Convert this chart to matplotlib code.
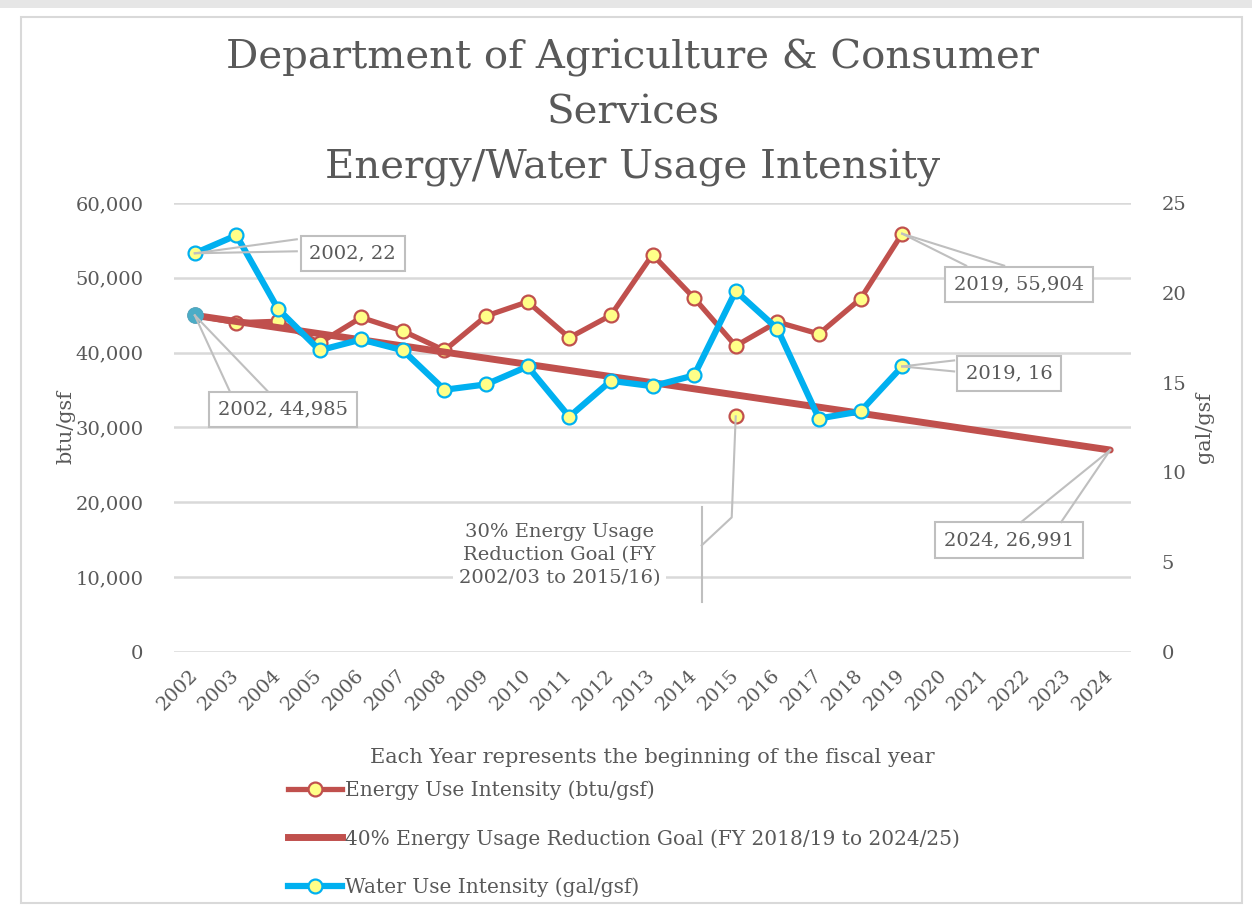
import matplotlib
matplotlib.use("Agg")
import matplotlib.pyplot as plt
from matplotlib.lines import Line2D
from matplotlib.patches import Rectangle
from matplotlib.transforms import IdentityTransform

# data
years = list(range(2002, 2025))
energy_years = list(range(2002, 2020))
energy = [44985, 44000, 44200, 41300, 44700, 42900, 40300, 44900, 46800,
          42000, 45000, 53100, 47300, 40900, 44100, 42500, 47200, 55904]
water = [22.2, 23.2, 19.1, 16.8, 17.4, 16.8, 14.6, 14.9, 15.9,
         13.1, 15.1, 14.8, 15.4, 20.1, 18.0, 13.0, 13.4, 15.9]
goal40_years = [2002, 2024]
goal40 = [44985, 26991]
goal30_years = [2015]
goal30 = [31490]

RED = "#C0504D"
BLUE = "#00B0F0"
TEAL = "#4BACC6"
YELLOW = "#FFFF88"
GRID = "#D9D9D9"
TXT = "#595959"
LEAD = "#BFBFBF"

plt.rcParams["font.family"] = ["DejaVu Serif"]
plt.rcParams["text.color"] = TXT

fig = plt.figure(figsize=(12.52, 9.13), dpi=100)
ax = fig.add_axes([174 / 1252, 1 - 652 / 913, (1131 - 174) / 1252, (652 - 203) / 913])
ax2 = ax.twinx()

# outer frame
fig.add_artist(Rectangle((21 / 1252, 1 - 903 / 913), (1242 - 21) / 1252, (903 - 17) / 913,
                         transform=fig.transFigure, fill=False, ec=GRID, lw=1.5))
fig.add_artist(Rectangle((0, 1 - 8 / 913), 1, 8 / 913, transform=fig.transFigure,
                         fc="#E6E6E6", ec="none"))

# series
ax.plot(energy_years, energy, color=RED, lw=3.8, marker="o", ms=10,
        mfc=YELLOW, mec=RED, mew=1.6, zorder=3, solid_capstyle="round")
ax.plot(goal40_years, goal40, color=RED, lw=5, zorder=4, solid_capstyle="round",
        marker="o", markevery=[0], ms=11, mfc=TEAL, mec=TEAL)
ax.plot(goal30_years, goal30, ls="none", marker="o", ms=10,
        mfc=YELLOW, mec=RED, mew=1.6, zorder=4)
ax2.plot(energy_years, water, color=BLUE, lw=4.5, marker="o", ms=10,
         mfc=YELLOW, mec=BLUE, mew=1.6, zorder=5, solid_capstyle="round")

ax.set_xlim(2001.5, 2024.5)
ax.set_ylim(0, 60000)
ax2.set_ylim(0, 25)
ax.set_yticks(range(0, 60001, 10000))
ax.set_yticklabels([f"{v:,}" for v in range(0, 60001, 10000)])
ax2.set_yticks(range(0, 26, 5))
ax.set_xticks(years)
ax.set_xticklabels([str(y) for y in years], rotation=45, ha="right", va="center",
                   rotation_mode="anchor")
ax.grid(axis="y", color=GRID, lw=1.8)
ax.set_axisbelow(True)
for a in (ax, ax2):
    for s in a.spines.values():
        s.set_visible(False)
    a.tick_params(length=0, labelsize=14, labelcolor=TXT)
ax.tick_params(axis="y", pad=22)
ax2.tick_params(axis="y", pad=22)
ax.tick_params(axis="x", pad=15)

ax.set_ylabel("btu/gsf", fontsize=15, color=TXT, labelpad=0)
ax2.set_ylabel("gal/gsf", fontsize=15, color=TXT, labelpad=6)
ax.set_xlabel("Each Year represents the beginning of the fiscal year", fontsize=15,
              color=TXT, labelpad=24)

fig.text(633 / 1252, 1 - 39 / 913,
         "Department of Agriculture & Consumer\nServices\nEnergy/Water Usage Intensity",
         ha="center", va="top", fontsize=29, color=TXT, linespacing=1.6)

fig.canvas.draw()


def callout(axis, x, y, text, box_off, leads):
    px, py = axis.transData.transform((x, y))
    for dx, dy in leads:
        fig.add_artist(Line2D([px, px + dx], [py, py + dy], transform=IdentityTransform(),
                              color=LEAD, lw=1.5, zorder=6))
    axis.annotate(text, (x, y), xytext=box_off, textcoords="offset pixels",
                  ha="center", va="center", fontsize=14, color=TXT, zorder=7,
                  bbox=dict(boxstyle="square,pad=0.45", fc="white", ec=LEAD, lw=1.5))


callout(ax2, energy_years[0], water[0], f"{energy_years[0]}, {round(water[0])}",
        (158, 0), [(102, 14), (102, 2)])
callout(ax, goal40_years[0], goal40[0], f"{goal40_years[0]}, {goal40[0]:,}",
        (88, -94), [(35, -76), (73, -76)])
callout(ax, energy_years[-1], energy[-1], f"{energy_years[-1]}, {energy[-1]:,}",
        (117, -51), [(64, -32), (102, -32)])
callout(ax2, energy_years[-1], water[-1], f"{energy_years[-1]}, {round(water[-1])}",
        (107, -7), [(52, 6), (52, -5)])
callout(ax, goal40_years[-1], goal40[-1], f"{goal40_years[-1]}, {goal40[-1]:,}",
        (-101, -90), [(-49, -72), (-89, -72)])

# 30% goal label with its leader
px, py = ax.transData.transform((goal30_years[0], goal30[0]))
fig.add_artist(Line2D([px, px - 4, px - 34], [py, py - 101, py - 129],
                      transform=IdentityTransform(), color=LEAD, lw=1.5))
fig.add_artist(Line2D([px - 34, px - 34], [py - 91, py - 186],
                      transform=IdentityTransform(), color=LEAD, lw=1.5))
ax.annotate("30% Energy Usage\nReduction Goal (FY\n2002/03 to 2015/16)",
            (goal30_years[0], goal30[0]), xytext=(-176, -139), textcoords="offset pixels",
            ha="center", va="center", fontsize=14, color=TXT, linespacing=1.35,
            bbox=dict(boxstyle="square,pad=0.3", fc="white", ec="none"))

handles = [
    Line2D([], [], color=RED, lw=3.8, marker="o", ms=10, mfc=YELLOW, mec=RED, mew=1.6),
    Line2D([], [], color=RED, lw=5),
    Line2D([], [], color=BLUE, lw=4.5, marker="o", ms=10, mfc=YELLOW, mec=BLUE, mew=1.6),
]
labels = ["Energy Use Intensity (btu/gsf)",
          "40% Energy Usage Reduction Goal (FY 2018/19 to 2024/25)",
          "Water Use Intensity (gal/gsf)"]
leg = fig.legend(handles, labels, loc="upper left", bbox_to_anchor=(288 / 1252, 1 - 780 / 913),
                 frameon=False, fontsize=14.5, handlelength=2.7, handletextpad=0.15,
                 labelspacing=1.45, borderpad=0, borderaxespad=0)
for t in leg.get_texts():
    t.set_color(TXT)

fig.savefig("out.png", dpi=100)
